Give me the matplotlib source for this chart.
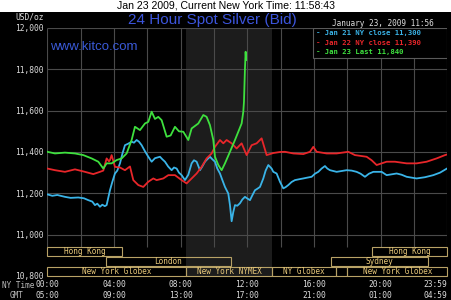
import matplotlib
matplotlib.use("Agg")
import matplotlib.pyplot as plt
from matplotlib.patches import Rectangle
import numpy as np

# ---------------- data ----------------
jan21_hours = [0.0, 0.3, 0.6, 1.06, 1.4, 1.86, 2.2, 2.46, 2.7, 2.86, 3.0, 3.16, 3.3, 3.45, 3.56, 3.76, 3.9,
               4.06, 4.2, 4.36, 4.5, 4.66, 4.85, 5.06, 5.2, 5.36, 5.5, 5.66, 5.85, 6.06, 6.26, 6.46, 6.76,
               6.9, 7.06, 7.25, 7.46, 7.6, 7.76, 7.9, 8.06, 8.26, 8.46, 8.66, 8.8, 8.96, 9.16, 9.3, 9.46,
               9.6, 9.76, 9.9, 10.06, 10.2, 10.36, 10.5, 10.66, 10.86, 10.96, 11.06, 11.16, 11.26, 11.4,
               11.56, 11.7, 11.86, 12.0, 12.16, 12.3, 12.46, 12.6, 12.76, 12.96, 13.1, 13.26, 13.46, 13.56,
               13.76, 13.96, 14.16, 14.3, 14.46, 14.66, 14.86, 15.1, 15.36, 15.6, 15.86, 16.06, 16.26,
               16.46, 16.66, 16.8, 16.96, 17.36, 17.66, 17.96, 18.26, 18.56, 18.8, 19.06, 19.3, 19.56,
               20.06, 20.36, 20.66, 20.96, 21.26, 21.56, 21.86, 22.16, 22.66, 23.16, 23.56, 23.98]
jan21_values = [11195, 11188, 11192, 11183, 11178, 11180, 11176, 11167, 11160, 11143, 11150, 11135, 11145,
                11138, 11143, 11215, 11255, 11296, 11310, 11345, 11390, 11433, 11440, 11450, 11445, 11458,
                11450, 11433, 11405, 11377, 11353, 11370, 11377, 11365, 11353, 11330, 11312, 11325, 11320,
                11300, 11288, 11264, 11290, 11345, 11360, 11353, 11312, 11330, 11353, 11365, 11377, 11365,
                11353, 11320, 11296, 11265, 11231, 11199, 11143, 11065, 11110, 11143, 11140, 11152, 11170,
                11183, 11175, 11167, 11190, 11215, 11222, 11231, 11272, 11310, 11337, 11320, 11304, 11296,
                11256, 11224, 11230, 11240, 11255, 11264, 11268, 11272, 11276, 11280, 11295, 11304, 11320,
                11332, 11320, 11312, 11304, 11308, 11312, 11310, 11304, 11295, 11280, 11295, 11304, 11304,
                11288, 11292, 11296, 11290, 11280, 11276, 11272, 11278, 11288, 11300, 11320]

jan22_hours = [0.0, 0.46, 1.06, 1.66, 2.26, 2.76, 3.16, 3.36, 3.56, 3.7, 3.76, 3.86, 4.06, 4.36, 4.66, 4.96,
               5.16, 5.46, 5.76, 6.06, 6.36, 6.56, 6.96, 7.26, 7.66, 8.06, 8.36, 8.66, 8.96, 9.26, 9.56,
               9.86, 10.06, 10.36, 10.56, 10.76, 11.06, 11.36, 11.66, 11.96, 12.26, 12.56, 12.86, 13.16,
               13.56, 13.96, 14.26, 14.76, 15.36, 15.76, 15.96, 16.16, 16.76, 17.36, 18.06, 18.46, 19.16,
               19.46, 19.76, 20.36, 20.86, 21.56, 22.16, 22.76, 23.36, 23.86, 23.98]
jan22_values = [11320, 11312, 11304, 11316, 11304, 11293, 11304, 11310, 11369, 11355, 11361, 11385, 11328,
                11325, 11312, 11330, 11264, 11240, 11231, 11256, 11272, 11264, 11272, 11288, 11288, 11264,
                11248, 11272, 11296, 11328, 11369, 11393, 11425, 11458, 11442, 11458, 11442, 11417, 11442,
                11385, 11433, 11442, 11466, 11385, 11395, 11400, 11401, 11393, 11390, 11401, 11425, 11401,
                11393, 11393, 11401, 11385, 11377, 11360, 11337, 11353, 11353, 11345, 11345, 11353, 11369,
                11385, 11388]

jan23_hours = [0.0, 0.46, 1.06, 1.66, 2.16, 2.66, 3.06, 3.36, 3.56, 3.86, 4.16, 4.46, 4.76, 5.06, 5.26,
               5.56, 5.86, 6.06, 6.26, 6.46, 6.66, 6.86, 7.16, 7.4, 7.66, 7.9, 8.16, 8.46, 8.66, 9.06,
               9.36, 9.56, 9.76, 9.96, 10.06, 10.26, 10.46, 10.66, 10.96, 11.26, 11.46, 11.66, 11.76,
               11.8, 11.86, 11.9, 11.93]
jan23_values = [11401, 11393, 11397, 11393, 11385, 11369, 11353, 11320, 11345, 11345, 11361, 11369, 11393,
                11458, 11522, 11506, 11538, 11546, 11595, 11560, 11570, 11554, 11474, 11480, 11522, 11500,
                11498, 11458, 11514, 11538, 11579, 11570, 11530, 11458, 11377, 11337, 11312, 11345, 11401,
                11458, 11498, 11538, 11595, 11643, 11805, 11885, 11845]

legend_labels = ["- Jan 21 NY close 11,300", "- Jan 22 NY close 11,390", "- Jan 23 Last 11,840"]
series_colors = ["#3ab4e8", "#e8262a", "#3ee03e"]

y_ticks = [10800, 11000, 11200, 11400, 11600, 11800, 12000]
x_ticks = [0, 4, 8, 12, 16, 20, 24]
ny_labels = ["00:00", "04:00", "08:00", "12:00", "16:00", "20:00", "23:59"]
gmt_labels = ["05:00", "09:00", "13:00", "17:00", "21:00", "01:00", "04:59"]

nymex_span = (8.33, 13.5)
# (row, start hour, end hour, label)
sessions = [
    (0, 0.0, 4.5, "Hong Kong"),
    (0, 19.5, 24.0, "Hong Kong"),
    (1, 3.5, 11.0, "London"),
    (1, 17.0, 22.85, "Sydney"),
    (2, 0.0, 8.33, "New York Globex"),
    (2, 8.33, 13.5, "New York NYMEX"),
    (2, 13.5, 17.3, "NY Globex"),
    (2, 17.3, 18.0, ""),
    (2, 18.0, 24.0, "New York Globex"),
]

# ---------------- figure ----------------
W, H = 452, 300
fig = plt.figure(figsize=(W / 100, H / 100), dpi=100, facecolor="white")
fig.patches.append(Rectangle((0, 0), 1, 1 - 12 / H, transform=fig.transFigure,
                             facecolor="black", edgecolor="none", zorder=-10))

mono = "DejaVu Sans Mono"
fig.text(226 / W, 1 - 6 / H, "Jan 23 2009, Current New York Time: 11:58:43",
         ha="center", va="center", fontsize=7.6, family="Liberation Sans", color="black")

ax = fig.add_axes([47.3 / W, 1 - 276 / H, 400 / W, 248 / H])
ax.set_facecolor("black")
ax.set_xlim(0, 24)
ax.set_ylim(10800, 12000)
for s in ax.spines.values():
    s.set_visible(False)

grid_c = "#4a4a4a"
ax.axvspan(*nymex_span, color="#1c1c1c", zorder=0.5, lw=0)
ax.vlines(np.arange(0, 25, 2), 0.118, 1, transform=ax.get_xaxis_transform(),
          color=grid_c, lw=0.8, zorder=1)
ax.hlines(y_ticks[1:], 0, 24, color=grid_c, lw=0.8, zorder=1)

for hrs, vals, c in zip([jan21_hours, jan22_hours, jan23_hours],
                        [jan21_values, jan22_values, jan23_values], series_colors):
    ax.plot(hrs, vals, color=c, lw=1.3, zorder=3)

# ticks
ax.set_yticks(y_ticks)
ax.set_yticklabels([f"{v:,}" for v in y_ticks])
ax.set_xticks(x_ticks)
ax.set_xticklabels([f"{a}\n{b}" for a, b in zip(ny_labels, gmt_labels)], linespacing=1.25)
ax.tick_params(length=0, labelsize=5.7, colors="#dcdcdc", pad=3)
for lab in ax.get_xticklabels() + ax.get_yticklabels():
    lab.set_family(mono)
ax.get_xticklabels()[-1].set_horizontalalignment("right")

fig.text(2 / W, 1 - 285 / H, "NY Time", ha="left", va="center", fontsize=5.5, family=mono, color="#bbbbbb")
fig.text(10 / W, 1 - 296 / H, "GMT", ha="left", va="center", fontsize=5.5, family=mono, color="#bbbbbb")
fig.text(44 / W, 1 - 17 / H, "USD/oz", ha="right", va="center", fontsize=5.7, family=mono, color="#dcdcdc")

# titles
fig.text(212 / W, 1 - 20 / H, "24 Hour Spot Silver (Bid)", ha="center", va="center",
         fontsize=11, family="Liberation Sans", color="#3c55dc")
ax.text((50 - 47.3) / 400, 1 - (47 - 28) / 248, "www.kitco.com", transform=ax.transAxes,
        ha="left", va="center", fontsize=9.5, family="Liberation Sans", color="#3a5ad8", zorder=4)
fig.text(383 / W, 1 - 24 / H, "January 23, 2009 11:56", ha="center", va="center",
         fontsize=5.6, family=mono, color="#e0e0e0")

# legend box
leg_x0 = (312.7 - 47.3) / 400
ax.add_patch(Rectangle((leg_x0, 1 - 29.7 / 248), 1 - leg_x0, 29.7 / 248, transform=ax.transAxes,
                       facecolor="black", edgecolor="#5a5a5a", lw=0.8, zorder=5))
for i, (lab, c) in enumerate(zip(legend_labels, series_colors)):
    ax.text((315.7 - 47.3) / 400, 1 - (5.3 + 9.2 * i) / 248, lab, transform=ax.transAxes,
            ha="left", va="center", fontsize=5.2, family=mono, weight="bold", color=c, zorder=6)

# session bars
row_h = 9 / 248
row_y = [2 * row_h + 2 / 248, row_h + 1 / 248, 0]
tr = ax.get_xaxis_transform()
for row, t0, t1, lab in sessions:
    y0 = row_y[row]
    ax.add_patch(Rectangle((t0, y0), t1 - t0, row_h, transform=tr, facecolor="none",
                           edgecolor="#b8a266", lw=0.8, zorder=4, clip_on=False))
    if lab:
        ax.text((t0 + t1) / 2, y0 + row_h / 2, lab, transform=tr, ha="center", va="center",
                fontsize=5.6, family=mono, color="#e8c87a", zorder=4)

fig.savefig("out.png", dpi=100, facecolor=fig.get_facecolor())
